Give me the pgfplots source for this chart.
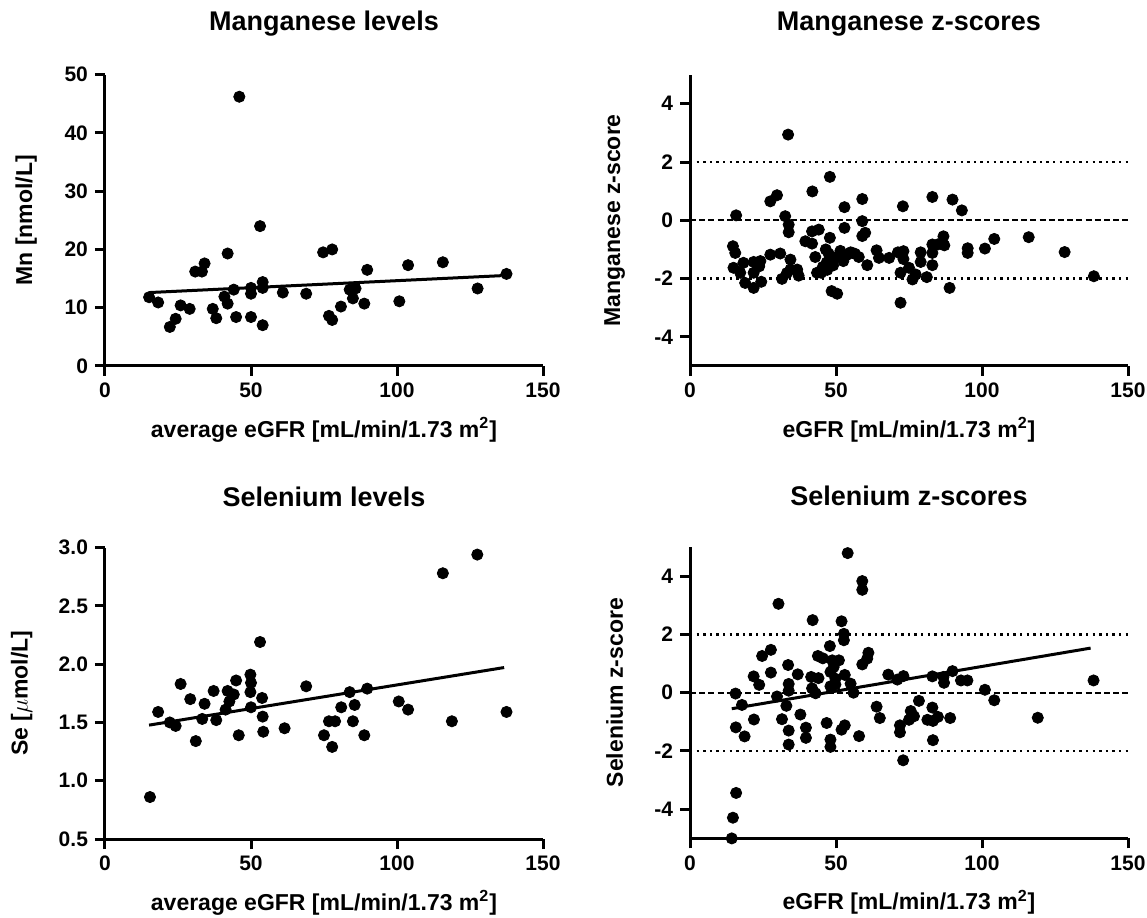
\documentclass[border=0pt]{standalone}
\usepackage{fontspec}
\setmainfont{Liberation Sans}
\usepackage{pgfplots}
\pgfplotsset{compat=1.18}

\pgfplotsset{
  prism/.style={
    scale only axis, width=219pt, height=145.7pt,
    xmin=0, xmax=150, xtick={0,50,100,150},
    axis lines*=left,
    axis line style={line width=1.5pt},
    tick align=outside, major tick length=5pt,
    tick style={line width=1.5pt, black},
    /pgf/number format/assume math mode=true,
    tick label style={font=\fontsize{10.5}{12}\selectfont\bfseries},
    label style={font=\fontsize{11.5}{13}\selectfont\bfseries},
    title style={font=\fontsize{13.5}{15}\selectfont\bfseries,
      at={(axis description cs:0.5,1)}, anchor=center, yshift=19.5pt},
    xlabel style={at={(axis description cs:0.5,0)}, anchor=center, yshift=-32pt},
    clip=false,
  },
  dots/.style={only marks, mark=*, mark size=2.8pt, black},
  fit/.style={black, line width=1.5pt, no marks},
  zero/.style={black, line width=1pt, dash pattern=on 3pt off 1.6pt, no marks},
  lim/.style={black, line width=1.4pt, dash pattern=on 1.2pt off 2.1pt, no marks},
}

\begin{document}
\begin{tikzpicture}
\useasboundingbox (0,0) rectangle (573.5pt,458.5pt);

% Manganese levels
\begin{axis}[prism, at={(52.5pt,275.5pt)}, anchor=south west,
  ymin=0, ymax=50, ytick={0,10,20,30,40,50},
  title={Manganese levels},
  xlabel={average eGFR [mL/min/1.73 m\textsuperscript{2}]},
  ylabel={Mn [nmol/L]},
  ylabel style={at={(axis description cs:-0.180,0.5)}, anchor=center}]
\addplot[fit] coordinates {(15.1,12.6) (135.8,15.5)};
\addplot[dots] coordinates {
 (46.0,46.2) (53.1,24.0) (42.0,19.3) (74.7,19.5) (77.8,20.0) (34.1,17.6)
 (30.9,16.2) (33.2,16.2) (89.8,16.5) (103.8,17.3) (115.7,17.8) (137.5,15.8)
 (127.6,13.3) (15.1,11.8) (18.2,10.9) (22.2,6.7) (24.2,8.1) (25.9,10.4)
 (29.0,9.8) (36.9,9.8) (38.1,8.2) (40.9,11.9) (42.0,10.7) (44.1,13.1)
 (44.9,8.4) (50.0,13.4) (50.0,12.4) (50.0,8.4) (54.0,14.4) (54.0,13.4)
 (54.0,7.0) (60.9,12.6) (68.9,12.4) (76.7,8.6) (77.8,7.9) (80.8,10.2)
 (83.8,13.1) (85.8,13.3) (84.9,11.6) (88.8,10.7) (100.8,11.1)
};
\end{axis}

% Manganese z-scores
\begin{axis}[prism, at={(345pt,275.5pt)}, anchor=south west,
  ymin=-5, ymax=5, ytick={-4,-2,0,2,4},
  title={Manganese z-scores},
  xlabel={eGFR [mL/min/1.73 m\textsuperscript{2}]},
  ylabel={Manganese z-score},
  ylabel style={at={(axis description cs:-0.172,0.5)}, anchor=center}]
\addplot[lim] coordinates {(0,2) (150,2)};
\addplot[lim] coordinates {(0,-2) (150,-2)};
\addplot[zero] coordinates {(0,0) (150,0)};
\addplot[dots] coordinates {
 (33.6,2.94) (47.9,1.49) (41.9,0.99) (29.8,0.86) (27.5,0.65) (59.0,0.73)
 (52.9,0.45) (72.9,0.48) (83.0,0.80) (89.9,0.71) (93.1,0.34) (15.8,0.17)
 (32.6,0.14) (33.8,-0.15) (33.8,-0.41) (59.0,-0.03) (52.9,-0.26) (59.0,-0.54)
 (60.0,-0.43) (41.8,-0.38) (44.1,-0.32) (47.9,-0.60) (39.5,-0.72) (41.8,-0.80)
 (86.8,-0.55) (104.2,-0.64) (116.0,-0.58) (14.7,-0.89) (15.5,-1.12) (27.5,-1.18)
 (30.9,-1.14) (34.4,-1.35) (42.9,-1.26) (83.0,-0.83) (84.8,-0.83) (87.1,-0.86)
 (95.1,-0.96) (95.1,-1.12) (101.0,-0.97) (128.3,-1.09) (63.9,-1.03) (64.7,-1.29)
 (68.2,-1.29) (71.2,-1.10) (73.1,-1.06) (73.1,-1.33) (79.0,-1.10) (79.0,-1.43)
 (83.0,-1.12) (83.0,-1.54) (60.7,-1.54) (18.3,-1.46) (21.8,-1.43) (24.1,-1.40)
 (14.9,-1.63) (17.2,-1.80) (21.8,-1.80) (24.4,-2.11) (18.9,-2.15) (21.8,-2.32)
 (31.5,-2.01) (34.4,-1.69) (37.2,-1.90) (43.5,-1.80) (44.9,-1.80) (48.5,-2.43)
 (50.4,-2.52) (72.1,-2.83) (72.1,-1.80) (75.0,-1.63) (76.2,-2.03) (77.3,-1.86)
 (81.1,-1.95) (88.9,-2.32) (138.3,-1.92) (33.2,-1.81) (36.7,-1.69) (23.7,-1.44)
 (23.7,-1.58) (46.5,-1.00) (47.5,-1.15) (48.5,-1.30) (46.8,-1.45) (49.0,-1.55)
 (50.5,-1.25) (51.5,-1.05) (52.5,-1.40) (53.5,-1.20) (55.0,-1.10) (56.5,-1.15)
 (57.8,-1.26) (52.8,-1.23) (55.6,-1.12) (45.5,-1.60) (47.0,-1.70)
};
\end{axis}

% Selenium levels
\begin{axis}[prism, at={(52.5pt,39pt)}, anchor=south west,
  ymin=0.5, ymax=3.0, ytick={0.5,1.0,1.5,2.0,2.5,3.0},
  yticklabel style={/pgf/number format/.cd, fixed, fixed zerofill, precision=1},
  title={Selenium levels},
  xlabel={average eGFR [mL/min/1.73 m\textsuperscript{2}]},
  ylabel={Se [$\mu$mol/L]},
  ylabel style={at={(axis description cs:-0.190,0.5)}, anchor=center}]
\addplot[fit] coordinates {(15.1,1.477) (136.7,1.971)};
\addplot[dots] coordinates {
 (127.5,2.94) (115.7,2.78) (53.1,2.19) (49.8,1.91) (50.0,1.84) (49.8,1.76)
 (44.9,1.86) (25.9,1.83) (37.2,1.77) (42.0,1.77) (44.1,1.74) (68.9,1.81)
 (83.8,1.76) (89.8,1.79) (29.2,1.70) (34.1,1.66) (42.6,1.68) (53.8,1.71)
 (18.2,1.59) (41.3,1.61) (50.0,1.63) (80.9,1.63) (85.5,1.65) (100.6,1.68)
 (103.8,1.61) (137.5,1.59) (22.2,1.50) (24.2,1.47) (33.3,1.53) (38.1,1.52)
 (54.0,1.55) (76.7,1.51) (78.8,1.51) (84.9,1.51) (118.8,1.51) (61.5,1.45)
 (45.8,1.39) (54.2,1.42) (75.0,1.39) (88.8,1.39) (31.1,1.34) (77.8,1.29)
 (15.4,0.86)
};
\end{axis}

% Selenium z-scores
\begin{axis}[prism, at={(345pt,39.3pt)}, anchor=south west,
  ymin=-5, ymax=5, ytick={-4,-2,0,2,4},
  title={Selenium z-scores},
  xlabel={eGFR [mL/min/1.73 m\textsuperscript{2}]},
  ylabel={Selenium z-score},
  ylabel style={at={(axis description cs:-0.172,0.5)}, anchor=center}]
\addplot[lim] coordinates {(0,2) (150,2)};
\addplot[lim] coordinates {(0,-2) (150,-2)};
\addplot[zero] coordinates {(0,0) (150,0)};
\addplot[fit] coordinates {(14.3,-0.55) (137.2,1.53)};
\addplot[dots] coordinates {
 (54.0,4.79) (59.0,3.83) (59.0,3.53) (30.3,3.05) (42.0,2.49) (51.9,2.45)
 (52.7,2.02) (52.7,1.80) (47.9,1.60) (24.7,1.26) (27.7,1.47) (43.8,1.26)
 (45.5,1.18) (48.7,1.11) (51.0,1.11) (61.1,1.37) (60.7,1.17) (59.0,0.97)
 (33.6,0.95) (36.9,0.63) (27.7,0.69) (21.8,0.56) (23.7,0.27) (41.5,0.54)
 (44.0,0.50) (41.8,0.15) (43.0,-0.02) (48.1,0.71) (49.8,0.48) (48.1,0.22)
 (49.8,0.28) (49.2,0.88) (53.0,0.61) (55.0,0.31) (56.0,0.00) (67.9,0.62)
 (71.0,0.45) (73.1,0.57) (83.0,0.56) (86.8,0.54) (87.0,0.34) (89.9,0.74)
 (92.8,0.42) (95.0,0.42) (101.0,0.10) (104.2,-0.26) (138.2,0.42) (119.1,-0.86)
 (15.6,-0.03) (17.8,-0.42) (29.8,-0.13) (33.8,0.30) (33.8,0.07) (33.0,-0.45)
 (31.5,-0.91) (21.9,-0.92) (15.7,-1.19) (18.7,-1.50) (37.8,-0.75) (33.8,-1.30)
 (33.8,-1.78) (39.7,-1.20) (39.7,-1.55) (46.8,-1.04) (48.1,-1.61) (48.1,-1.86)
 (51.9,-1.27) (53.0,-1.12) (57.9,-1.49) (63.9,-0.48) (65.0,-0.87) (71.9,-1.12)
 (71.9,-1.36) (73.0,-2.32) (75.6,-0.63) (76.7,-0.81) (75.0,-0.93) (78.4,-0.28)
 (81.3,-0.93) (83.0,-0.51) (83.2,-0.97) (84.9,-0.83) (83.2,-1.63) (89.1,-0.87)
 (15.8,-3.44) (14.7,-4.29) (14.3,-5.00)
};
\end{axis}
\end{tikzpicture}
\end{document}
